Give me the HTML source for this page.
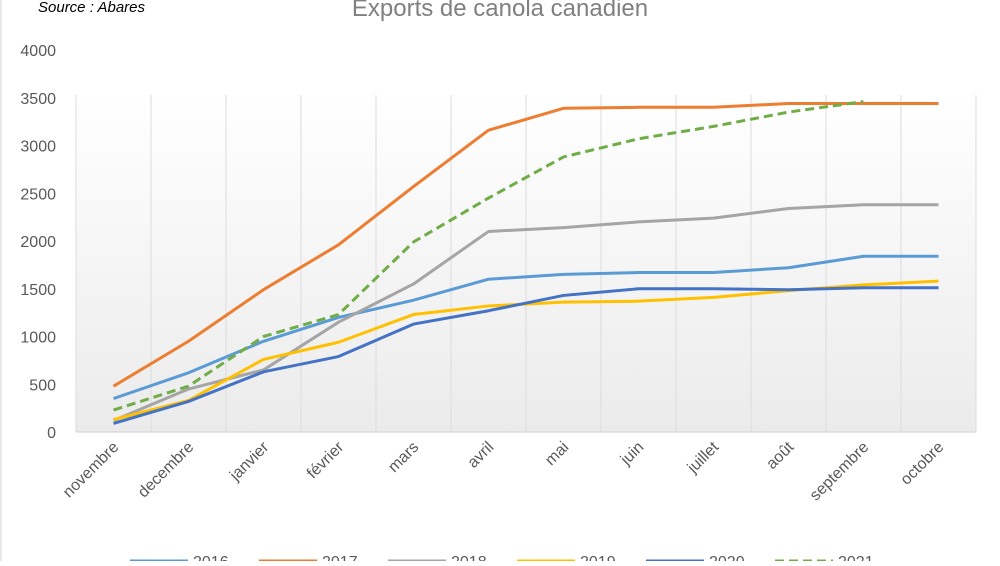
<!DOCTYPE html>
<html><head><meta charset="utf-8"><style>
body{margin:0;width:1000px;height:561px;overflow:hidden;background:#fff;font-family:"Liberation Sans",sans-serif}
</style></head><body>
<svg id="c" width="1000" height="561">
<defs><linearGradient id="bg" x1="0" y1="0" x2="0" y2="1"><stop offset="0" stop-color="#ffffff"/><stop offset="1" stop-color="#ebebeb"/></linearGradient></defs>
<rect x="0" y="0" width="1000" height="561" fill="#fff"/>
<line x1="1" y1="0" x2="1" y2="561" stroke="#d0d0d0"/>
<rect x="76" y="95" width="900" height="337" fill="url(#bg)"/>
<text x="38" y="12" font-size="15" font-style="italic" fill="#000">Source : Abares</text>
<text x="500" y="16" font-size="24" fill="#808080" text-anchor="middle">Exports de canola canadien</text>
<g id="grid"></g><g id="yt"></g><g id="xt"></g><g id="series"></g><g id="legend"></g>
</svg>
<script>
const categories=["novembre","decembre","janvier","février","mars","avril","mai","juin","juillet","août","septembre","octobre"];
const yTicks=[0,500,1000,1500,2000,2500,3000,3500,4000];
const years=["2016","2017","2018","2019","2020","2021"];
const s2016=[350,620,950,1200,1380,1600,1650,1670,1670,1720,1840,1840];
const s2017=[480,950,1490,1960,2570,3160,3390,3400,3400,3440,3440,3440];
const s2018=[120,450,650,1150,1550,2100,2140,2200,2240,2340,2380,2380];
const s2019=[130,330,760,940,1230,1320,1360,1370,1410,1480,1540,1580];
const s2020=[90,320,630,790,1130,1270,1430,1500,1500,1490,1510,1510];
const s2021=[230,480,1000,1230,1990,2450,2880,3070,3200,3350,3460];
const colors=["#5b9bd5","#ed7d31","#a5a5a5","#ffc000","#4472c4","#70ad47"];
const allSeries=[s2016,s2017,s2018,s2019,s2020,s2021];
const NS="http://www.w3.org/2000/svg";
const x0=76,w=900,y0=432,h=382,yMax=4000;
const step=w/categories.length;
const xs=i=>x0+step*(i+0.5);
const ys=v=>y0-v/yMax*h;
function mk(t,a,p){const e=document.createElementNS(NS,t);for(const k in a)e.setAttribute(k,a[k]);p.appendChild(e);return e;}
const grid=document.getElementById('grid');
for(let i=0;i<=categories.length;i++){const gx=x0+step*i;const l=mk('line',{x1:gx,x2:gx,y1:95,y2:432,stroke:'#dcdcdc'},grid);

}
const ax=mk('line',{x1:x0,x2:x0+w,y1:y0,y2:y0,stroke:'#d0d0d0'},grid);


const yt=document.getElementById('yt');
yTicks.forEach(v=>{const t=mk('text',{x:56,y:ys(v)+6,'font-size':16,fill:'#595959','text-anchor':'end'},yt);t.textContent=v;

});
const xt=document.getElementById('xt');
categories.forEach((c,i)=>{const px=xs(i)+6,py=448;const t=mk('text',{x:px,y:py,'font-size':16,fill:'#595959','text-anchor':'end',transform:`rotate(-45 ${px} ${py})`},xt);t.textContent=c;

});
const sg=document.getElementById('series');
allSeries.forEach((s,k)=>{const pts=s.map((v,i)=>xs(i)+','+ys(v)).join(' ');
const a={points:pts,fill:'none',stroke:colors[k],'stroke-width':3,'stroke-linejoin':'round'};
if(k===5)a['stroke-dasharray']='9,5';
const p=mk('polyline',a,sg);

});
const lg=document.getElementById('legend');
years.forEach((y,k)=>{const lx=130+k*129;
const a={x1:lx,x2:lx+58,y1:561,y2:561,stroke:colors[k],'stroke-width':3};
if(k===5)a['stroke-dasharray']='9,5';
const l=mk('line',a,lg);


const t=mk('text',{x:lx+63,y:567,'font-size':16,fill:'#595959'},lg);t.textContent=y;

});
</script>
</body></html>
